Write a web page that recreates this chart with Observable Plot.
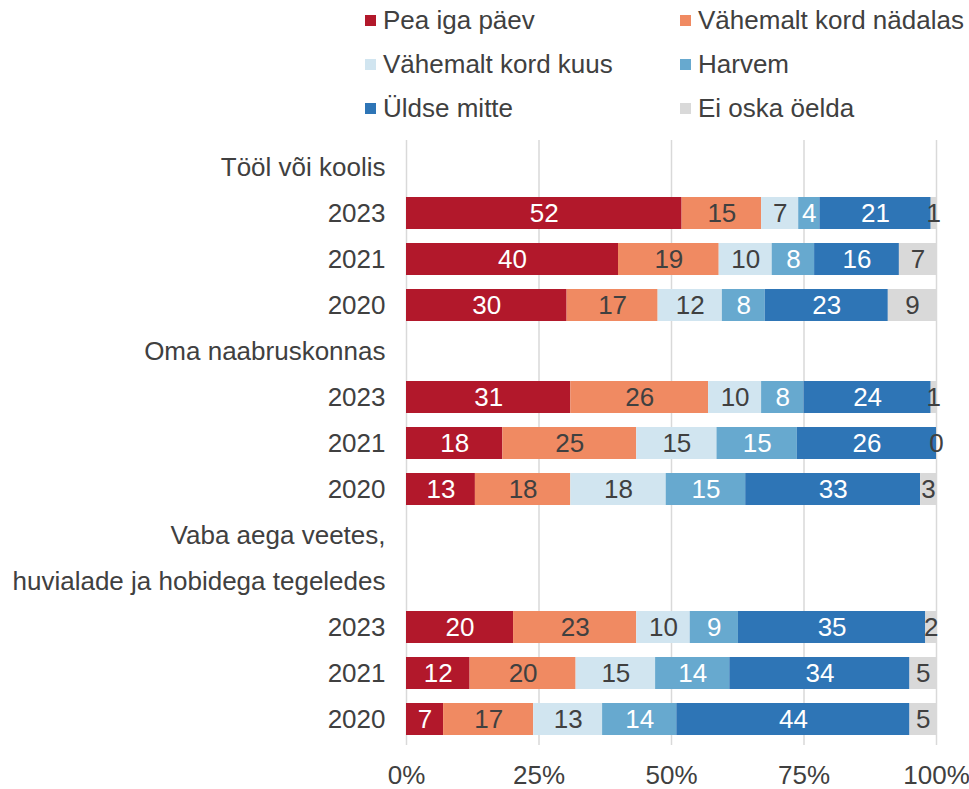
<!DOCTYPE html>
<html>
<head>
<meta charset="utf-8">
<script src="https://cdn.jsdelivr.net/npm/d3@7"></script>
<script src="https://cdn.jsdelivr.net/npm/@observablehq/plot@0.6"></script>
<style>
  body { margin: 0; background: #fff; font-family: "Liberation Sans", Arial, sans-serif; }
  #wrap { position: relative; width: 969px; }
  #legend { position: relative; height: 130px; width: 969px; }
  .item { position: absolute; display: flex; align-items: center; font-size: 26px; color: #404040; white-space: nowrap; }
  .sw { width: 11px; height: 11px; margin-right: 7px; }
</style>
</head>
<body>
<div id="wrap">
  <div id="legend"></div>
  <div id="chart"></div>
</div>
<script>
const categories = ["Pea iga päev", "Vähemalt kord nädalas", "Vähemalt kord kuus", "Harvem", "Üldse mitte", "Ei oska öelda"];
const colors = ["#B2182B", "#F08A62", "#D1E5F0", "#67A9CF", "#2E75B6", "#D9D9D9"];
const darkText = ["Vähemalt kord nädalas", "Vähemalt kord kuus", "Ei oska öelda"];

// row keys and their labels (header rows have no bars)
const rowKeys = ["h1", "a2023", "a2021", "a2020", "h2", "b2023", "b2021", "b2020", "h3a", "h3b", "c2023", "c2021", "c2020"];
const rowLabels = ["Tööl või koolis", "2023", "2021", "2020", "Oma naabruskonnas", "2023", "2021", "2020",
  "Vaba aega veetes,", "huvialade ja hobidega tegeledes", "2023", "2021", "2020"];

const barRows = ["a2023", "a2021", "a2020", "b2023", "b2021", "b2020", "c2023", "c2021", "c2020"];
const pea     = [52, 40, 30, 31, 18, 13, 20, 12, 7];
const nadalas = [15, 19, 17, 26, 25, 18, 23, 20, 17];
const kuus    = [7, 10, 12, 10, 15, 18, 10, 15, 13];
const harvem  = [4, 8, 8, 8, 15, 15, 9, 14, 14];
const yldse   = [21, 16, 23, 24, 26, 33, 35, 34, 44];
const eiOska  = [1, 7, 9, 1, 0, 3, 2, 5, 5];
const xTicks = [0, 0.25, 0.5, 0.75, 1];

const series = [pea, nadalas, kuus, harvem, yldse, eiOska];
const data = [];
barRows.forEach((r, i) => {
  categories.forEach((c, j) => {
    data.push({row: r, cat: c, value: series[j][i]});
  });
});

// legend
const legend = document.getElementById("legend");
const legPos = [[365, 20], [680, 20], [365, 64], [680, 64], [365, 108], [680, 108]];
categories.forEach((c, i) => {
  const d = document.createElement("div");
  d.className = "item";
  d.style.left = legPos[i][0] + "px";
  d.style.top = (legPos[i][1] - 15) + "px";
  d.style.height = "30px";
  d.innerHTML = `<span class="sw" style="background:${colors[i]}"></span><span>${c}</span>`;
  legend.appendChild(d);
});

const labelMap = new Map(rowKeys.map((k, i) => [k, rowLabels[i]]));
const stackOpts = {x: "value", y: "row", z: "cat", offset: "normalize", order: null};

const chart = Plot.plot({
  width: 969,
  height: 659,
  marginLeft: 406,
  marginRight: 33,
  marginTop: 10,
  marginBottom: 44,
  style: {fontFamily: "Liberation Sans, Arial, sans-serif", fontSize: "26px", color: "#404040", background: "#fff", overflow: "visible"},
  x: {domain: [0, 1], ticks: xTicks, tickFormat: d3.format(".0%"), tickSize: 0, tickPadding: 20, grid: false, label: null},
  y: {domain: rowKeys, paddingInner: 0.31, paddingOuter: 0.155, tickSize: 0, tickPadding: 21, tickFormat: d => labelMap.get(d), label: null},
  color: {domain: categories, range: colors},
  marks: [
    Plot.ruleX(xTicks, {stroke: "#d9d9d9", strokeWidth: 1.5}),
    Plot.barX(data, Plot.stackX({...stackOpts, fill: "cat"})),
    Plot.text(data, Plot.stackX({...stackOpts, text: d => darkText.includes(d.cat) ? null : String(d.value), fill: "white", fontSize: 26})),
    Plot.text(data, Plot.stackX({...stackOpts, text: d => darkText.includes(d.cat) ? String(d.value) : null, fill: "#404040", fontSize: 26}))
  ]
});
document.getElementById("chart").appendChild(chart);
</script>
</body>
</html>
